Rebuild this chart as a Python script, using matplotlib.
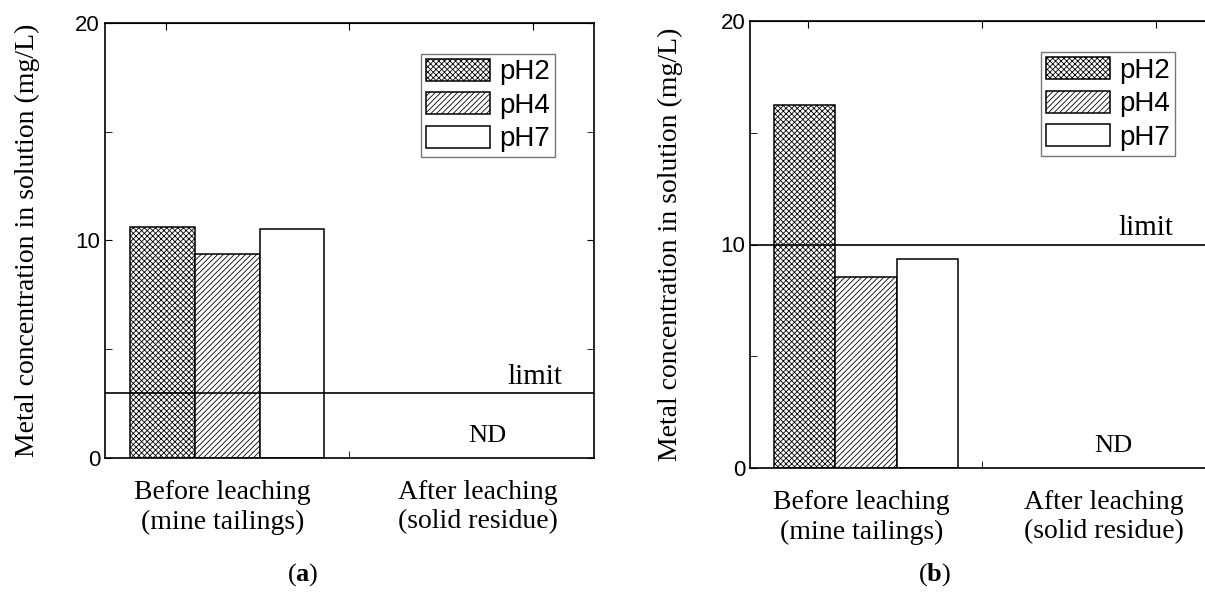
import matplotlib
matplotlib.use("Agg")
import matplotlib.pyplot as plt
import numpy as np

plt.rcParams['hatch.linewidth'] = 0.6
plt.rcParams['mathtext.fontset'] = 'custom'
plt.rcParams['mathtext.rm'] = 'Liberation Serif'
plt.rcParams['mathtext.bf'] = 'Liberation Serif:bold'

# data
groups = ["Before leaching\n(mine tailings)", "After leaching\n(solid residue)"]
series = ["pH2", "pH4", "pH7"]
vals_a = [10.6, 9.4, 10.55]
vals_b = [16.25, 8.55, 9.35]
limit_a = 3
limit_b = 10

hatches = ["xxxxxx", "//////", ""]
serif = "Liberation Serif"
sans = "Liberation Sans"

fig = plt.figure(figsize=(12.05, 6), dpi=100)
ax_a = fig.add_axes([0.0871, 0.2367, 0.4058, 0.725])
ax_b = fig.add_axes([0.6224, 0.22, 0.385, 0.745])


def draw_panel(ax, vals, limit, limit_x, ylab_x, leg_anchor):
    w = 0.53
    pos = 1 + (np.arange(len(series)) - 1) * w
    for i in range(len(series)):
        ax.bar(pos[i], vals[i], width=w, color="white", edgecolor="black",
               hatch=hatches[i], linewidth=1.1, label=series[i], zorder=2)
    ax.axhline(limit, color="black", linewidth=1.2, zorder=3)
    ax.set_xlim(0, 4)
    ax.set_ylim(0, 20)
    # category labels
    ax.set_xticks([0.96, 3.05])
    ax.set_xticklabels(groups, fontfamily=serif, fontsize=20, linespacing=1.22)
    ax.tick_params(axis="x", which="major", length=0, pad=16)
    ax.set_xticks([2], minor=True)
    ax.tick_params(axis="x", which="minor", direction="in", length=5)
    top = ax.secondary_xaxis("top")
    top.set_xticks([0.5, 2, 3.5])
    top.set_xticklabels([])
    top.tick_params(direction="in", length=5)
    ax.set_yticks([0, 10, 20])
    ax.set_yticks([5, 15], minor=True)
    ax.tick_params(axis="y", which="both", direction="in", length=5, right=True, labelsize=16)
    for t in ax.get_yticklabels():
        t.set_fontfamily(sans)
    for s in ax.spines.values():
        s.set_linewidth(1.2)
    ax.set_ylabel("Metal concentration in solution (mg/L)", fontfamily=serif, fontsize=20)
    ax.yaxis.set_label_coords(ylab_x, 0.5)
    ax.text(limit_x, limit + 0.42, "limit", fontfamily=serif, fontsize=21, ha="right", va="baseline")
    ax.text(3.13, 1.0, "ND", fontfamily=serif, fontsize=19, ha="center", va="center")
    leg = ax.legend(loc="upper right", bbox_to_anchor=leg_anchor, prop={"family": sans, "size": 20},
                    handlelength=2.3, handleheight=0.83, handletextpad=0.32, labelspacing=0.25,
                    borderpad=0.18, borderaxespad=0, fancybox=False, framealpha=1)
    leg.get_frame().set_edgecolor("#777777")
    leg.get_frame().set_linewidth(1.0)


draw_panel(ax_a, vals_a, limit_a, 3.74, -0.133, (0.920, 0.929))
draw_panel(ax_b, vals_b, limit_b, 3.65, -0.144, (0.916, 0.930))

fig.text(303 / 1205, 1 - 575 / 600, r"$\mathrm{(}\mathbf{a}\mathrm{)}$", fontsize=19, ha="center", va="center")
fig.text(935 / 1205, 1 - 575 / 600, r"$\mathrm{(}\mathbf{b}\mathrm{)}$", fontsize=19, ha="center", va="center")

fig.savefig("out.png", dpi=100)
